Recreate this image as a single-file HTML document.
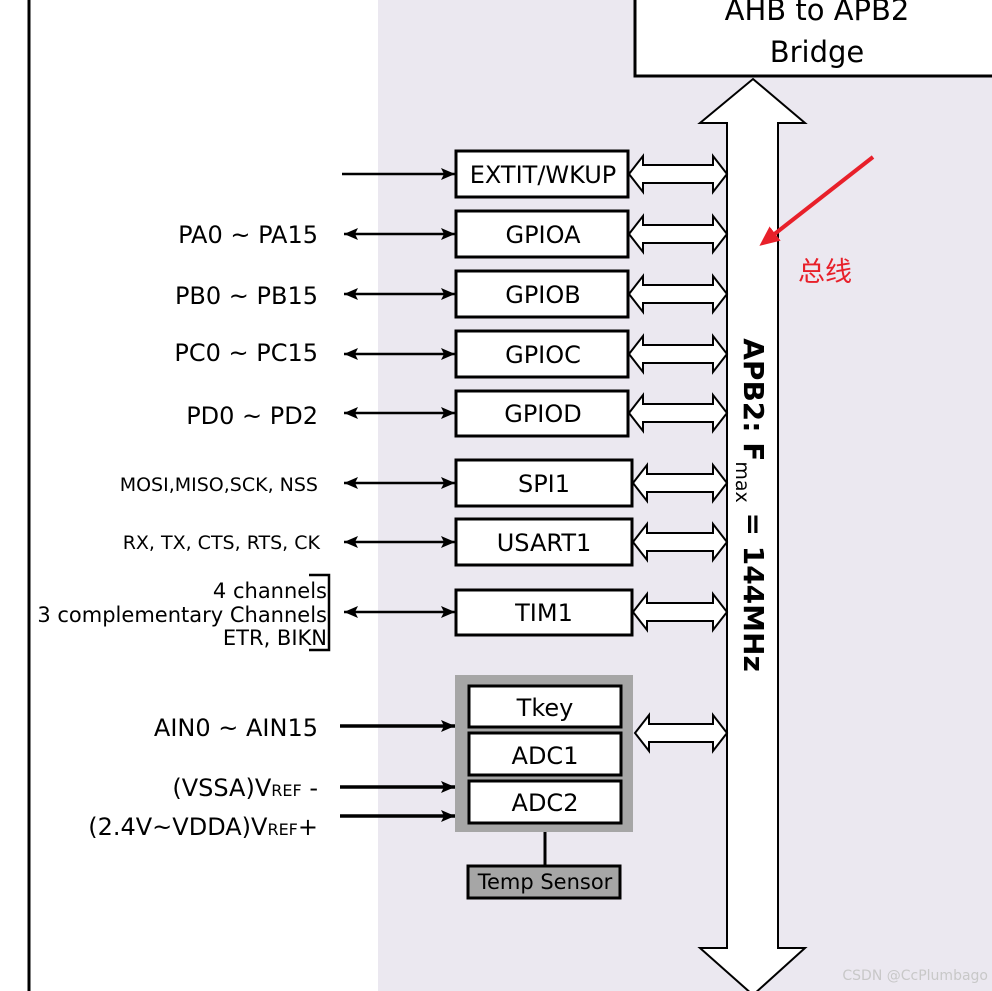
<!DOCTYPE html>
<html><head><meta charset="utf-8"><style>
html,body{margin:0;padding:0;background:#fff}
svg{display:block}
text{font-family:"DejaVu Sans","Liberation Sans",sans-serif}
</style></head><body>
<svg width="992" height="991" viewBox="0 0 992 991" xmlns="http://www.w3.org/2000/svg">
<defs>
<marker id="ah" markerWidth="14" markerHeight="12" refX="14" refY="6" orient="auto-start-reverse" markerUnits="userSpaceOnUse">
<path d="M0,0 L14,6 L0,12 L3,6 Z" fill="#000"/></marker>
<marker id="ar" markerWidth="20" markerHeight="18" refX="4" refY="9" orient="auto" markerUnits="userSpaceOnUse">
<path d="M0,0 L20,9 L0,18 Z" fill="#e8202a"/></marker>
</defs>
<rect x="0" y="0" width="992" height="991" fill="#fff"/>
<rect x="378" y="0" width="614" height="991" fill="#ebe8f0"/>
<line x1="29" y1="0" x2="29" y2="991" stroke="#000" stroke-width="3"/>

<rect x="635" y="-5" width="365" height="81" fill="#fff" stroke="#000" stroke-width="3"/>
<text x="817" y="20" font-size="29" text-anchor="middle">AHB to APB2</text>
<text x="817" y="62" font-size="29" text-anchor="middle">Bridge</text>

<path d="M753,79 L805,123 L778,123 L778,948 L805,948 L753,995 L700,948 L727,948 L727,123 L700,123 Z" fill="#fff" stroke="#000" stroke-width="2"/>
<text transform="translate(744,505) rotate(90)" font-size="28" font-weight="bold" text-anchor="middle">APB2:  F<tspan font-size="19" font-weight="normal" dy="8">max</tspan><tspan dy="-8"> = 144MHz</tspan></text>

<line x1="873" y1="157" x2="772" y2="236" stroke="#e8202a" stroke-width="4" marker-end="url(#ar)"/>
<text x="798" y="281" font-size="27" fill="#e8202a" font-family="'Noto Sans CJK SC',sans-serif">总线</text>

<g fill="#fff" stroke="#000" stroke-width="3">
<rect x="456" y="151" width="172" height="46"/>
<rect x="456" y="211" width="172" height="46"/>
<rect x="456" y="271" width="172" height="46"/>
<rect x="456" y="331" width="172" height="46"/>
<rect x="456" y="391" width="172" height="45"/>
<rect x="456" y="460" width="176" height="46"/>
<rect x="456" y="519" width="176" height="46"/>
<rect x="456" y="590" width="176" height="45"/>
</g>
<rect x="455" y="675" width="178" height="157" fill="#a6a6a6"/>
<g fill="#fff" stroke="#000" stroke-width="3">
<rect x="469" y="686" width="152" height="41"/>
<rect x="469" y="733" width="152" height="42"/>
<rect x="469" y="781" width="152" height="42"/>
</g>
<line x1="545" y1="832" x2="545" y2="865" stroke="#000" stroke-width="3"/>
<rect x="468" y="866" width="152" height="32" fill="#a6a6a6" stroke="#000" stroke-width="3"/>

<g font-size="24" text-anchor="middle">
<text x="543" y="183">EXTIT/WKUP</text>
<text x="543" y="243">GPIOA</text>
<text x="543" y="303">GPIOB</text>
<text x="543" y="363">GPIOC</text>
<text x="543" y="422">GPIOD</text>
<text x="544" y="492">SPI1</text>
<text x="544" y="551">USART1</text>
<text x="544" y="621">TIM1</text>
<text x="545" y="716">Tkey</text>
<text x="545" y="764">ADC1</text>
<text x="545" y="811">ADC2</text>
<text x="545" y="889" font-size="21">Temp Sensor</text>
</g>

<g fill="#fff" stroke="#000" stroke-width="2">
<path d="M629,174 l14,-18 v9 h70 v-9 l14,18 l-14,18 v-9 h-70 v9 Z"/>
<path d="M629,234 l14,-18 v9 h70 v-9 l14,18 l-14,18 v-9 h-70 v9 Z"/>
<path d="M629,294 l14,-18 v9 h70 v-9 l14,18 l-14,18 v-9 h-70 v9 Z"/>
<path d="M629,354 l14,-18 v9 h70 v-9 l14,18 l-14,18 v-9 h-70 v9 Z"/>
<path d="M629,413 l14,-18 v9 h70 v-9 l14,18 l-14,18 v-9 h-70 v9 Z"/>
<path d="M633,483 l14,-18 v9 h66 v-9 l14,18 l-14,18 v-9 h-66 v9 Z"/>
<path d="M633,542 l14,-18 v9 h66 v-9 l14,18 l-14,18 v-9 h-66 v9 Z"/>
<path d="M633,612 l14,-18 v9 h66 v-9 l14,18 l-14,18 v-9 h-66 v9 Z"/>
<path d="M635,733 l14,-18 v9 h64 v-9 l14,18 l-14,18 v-9 h-64 v9 Z"/>
</g>

<g stroke="#000" stroke-width="2.5">
<line x1="342" y1="174" x2="455" y2="174" marker-end="url(#ah)"/>
<line x1="344" y1="234" x2="455" y2="234" marker-start="url(#ah)" marker-end="url(#ah)"/>
<line x1="344" y1="294" x2="455" y2="294" marker-start="url(#ah)" marker-end="url(#ah)"/>
<line x1="344" y1="354" x2="455" y2="354" marker-start="url(#ah)" marker-end="url(#ah)"/>
<line x1="344" y1="413" x2="455" y2="413" marker-start="url(#ah)" marker-end="url(#ah)"/>
<line x1="344" y1="483" x2="455" y2="483" marker-start="url(#ah)" marker-end="url(#ah)"/>
<line x1="344" y1="542" x2="455" y2="542" marker-start="url(#ah)" marker-end="url(#ah)"/>
<line x1="344" y1="612" x2="455" y2="612" marker-start="url(#ah)" marker-end="url(#ah)"/>
</g>
<g stroke="#000" stroke-width="3.5">
<line x1="340" y1="726" x2="455" y2="726" marker-end="url(#ah)"/>
<line x1="340" y1="787" x2="455" y2="787" marker-end="url(#ah)"/>
<line x1="340" y1="816" x2="455" y2="816" marker-end="url(#ah)"/>
</g>
<path d="M309,575 H329 V650 H309" fill="none" stroke="#000" stroke-width="2.5"/>

<g text-anchor="end">
<text x="318" y="243" font-size="24">PA0 ~ PA15</text>
<text x="318" y="304" font-size="24">PB0 ~ PB15</text>
<text x="318" y="361" font-size="24">PC0 ~ PC15</text>
<text x="318" y="424" font-size="24">PD0 ~ PD2</text>
<text x="318" y="491" font-size="19">MOSI,MISO,SCK, NSS</text>
<text x="320" y="549" font-size="19">RX, TX, CTS, RTS, CK</text>
<text x="327" y="598" font-size="21">4 channels</text>
<text x="327" y="622" font-size="21">3 complementary Channels</text>
<text x="327" y="645" font-size="21">ETR, BIKN</text>
<text x="318" y="736" font-size="24">AIN0 ~ AIN15</text>
<text x="318" y="796" font-size="24">(VSSA)V<tspan font-size="16">REF</tspan> -</text>
<text x="318" y="835" font-size="24">(2.4V~VDDA)V<tspan font-size="16">REF</tspan>+</text>
</g>
<text x="988" y="980" font-size="14" fill="#c8c8c8" text-anchor="end">CSDN @CcPlumbago</text>
</svg>
</body></html>
